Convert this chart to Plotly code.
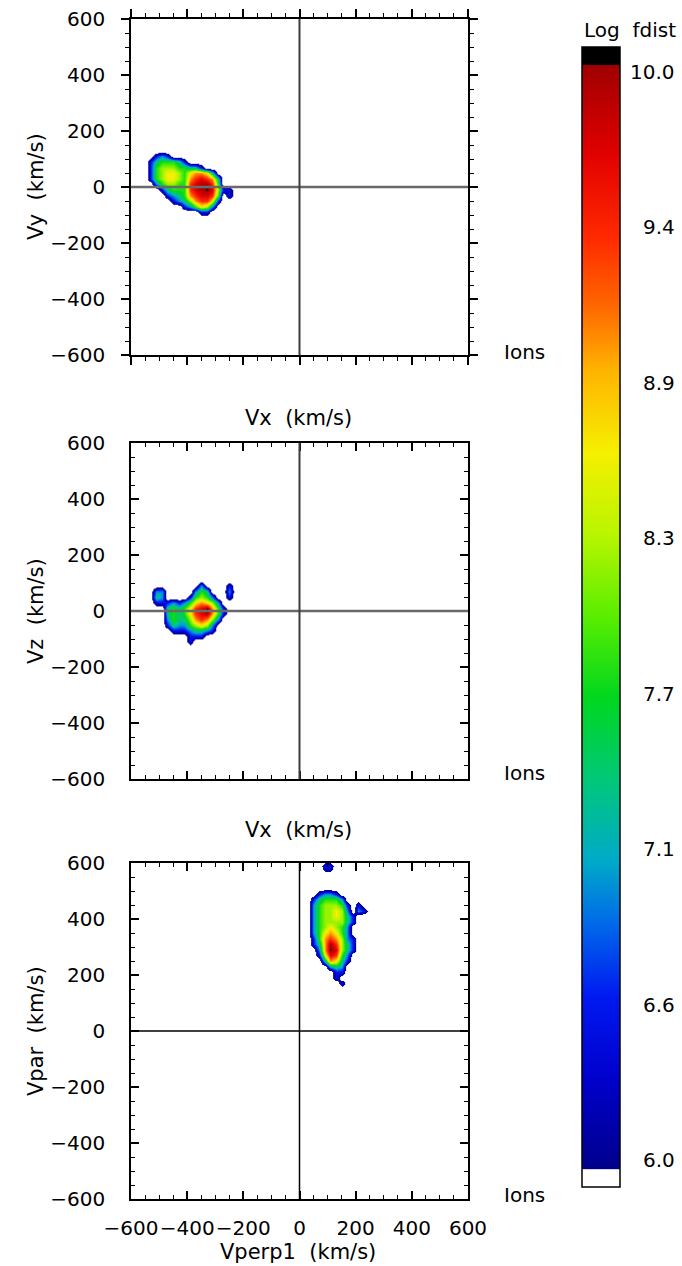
import plotly.graph_objects as go

W, H = 682, 1266
FONT = "DejaVu Sans"

# Level codes used in the gridded distributions -> log10(f);
# '.' marks bins below the plotted floor (drawn white)
LEVEL_CODES = ".0123456789ab"
LEVEL_VALUES = [5.5, 6.05, 6.5, 7.0, 7.4, 7.8, 8.2, 8.6, 9.0, 9.4, 9.7, 9.95, 10.06]

# Panel 1: Vx-Vy plane (bin centres, km/s)
P1_VX = list(range(-550, -229, 20))
P1_VY = list(range(130, -111, -20))
P1_ROWS = [
    ".................",
    "..121............",
    ".1344431.........",
    ".1455544331......",
    ".145665467763....",
    ".1456654789873...",
    "..24554489aa84...",
    "...1344489ab9511.",
    "....1234789984.1.",
    ".....123578861...",
    ".......124652....",
    "..........11.....",
    ".................",
]

# Panel 2: Vx-Vz plane
P2_VX = list(range(-550, -209, 20))
P2_VZ = list(range(110, -131, -20))
P2_ROWS = [
    "..................",
    "..........2....1..",
    "..22.....243...2..",
    "..32....14542..1..",
    "..111212467652....",
    "....3434689b741...",
    "....3434689a741...",
    "....2433578752....",
    "....132245652.....",
    ".....11123321.....",
    "........111.......",
    "........1.........",
    "..................",
]

# Panel 3: Vperp1-Vpar plane
P3_VPERP = list(range(30, 251, 20))
P3_VPAR = list(range(610, 149, -20))
P3_ROWS = [
    "............",
    "...11.......",
    "...00.......",
    "............",
    "............",
    "............",
    "..1221......",
    ".134442.....",
    ".2455541.1..",
    ".2455652.21.",
    ".24556531...",
    ".24555531...",
    ".2456542....",
    ".2467642....",
    ".14787521...",
    ".137a8531...",
    "..27b9531...",
    "..169842....",
    "...37631....",
    "....232.....",
    ".....11.....",
    ".....1......",
    "......1.....",
    "............",
]

AXIS_TICKS = [-600, -400, -200, 0, 200, 400, 600]
CB_MIN, CB_MAX = 5.901, 10.092
CB_TICKS = [6.0, 6.571, 7.143, 7.714, 8.286, 8.857, 9.429, 10.0]
CB_LABELS = ["6.0", "6.6", "7.1", "7.7", "8.3", "8.9", "9.4", "10.0"]


def decode(rows, ys):
    """Turn code strings into a z grid with ascending y."""
    lut = dict(zip(LEVEL_CODES, LEVEL_VALUES))
    z = [[lut[c] for c in r] for r in rows]
    return list(reversed(ys)), list(reversed(z))


def px(xp):
    return xp / W


def py(yp):
    return 1 - yp / H


def v2y(v):
    # vertical pixel of a value on the colour bar
    return 47 + (CB_MAX - v) / (CB_MAX - CB_MIN) * 1140


def t(v):
    return (v - CB_MIN) / (CB_MAX - CB_MIN)


colorscale = [
    [t(5.901), "rgb(255,255,255)"],
    [t(5.965), "rgb(255,255,255)"],
    [t(5.967), "rgb(0,0,140)"],
    [t(6.3), "rgb(0,0,205)"],
    [t(6.6), "rgb(0,25,240)"],
    [t(6.85), "rgb(0,100,235)"],
    [t(7.1), "rgb(0,170,200)"],
    [t(7.4), "rgb(0,200,120)"],
    [t(7.7), "rgb(0,215,30)"],
    [t(8.0), "rgb(90,238,0)"],
    [t(8.3), "rgb(185,245,0)"],
    [t(8.6), "rgb(245,240,0)"],
    [t(8.9), "rgb(255,180,0)"],
    [t(9.15), "rgb(255,100,0)"],
    [t(9.4), "rgb(255,40,0)"],
    [t(9.7), "rgb(225,0,0)"],
    [t(10.024), "rgb(160,0,0)"],
    [t(10.026), "rgb(0,0,0)"],
    [t(10.092), "rgb(0,0,0)"],
]

fig = go.Figure()
panels = [
    (P1_VX, P1_VY, P1_ROWS, "x", "y"),
    (P2_VX, P2_VZ, P2_ROWS, "x2", "y2"),
    (P3_VPERP, P3_VPAR, P3_ROWS, "x3", "y3"),
]
for xs, ys, rows, xa, ya in panels:
    yy, z = decode(rows, ys)
    fig.add_trace(go.Heatmap(x=xs, y=yy, z=z, coloraxis="coloraxis",
                             zsmooth="best", xaxis=xa, yaxis=ya,
                             hoverinfo="skip"))

# panel frames (pixel extents)
frames = [(19, 355), (443, 779), (863, 1199)]
x_dom = [px(131), px(468)]

layout_axes = {}
for i, (top, bot) in enumerate(frames):
    n = "" if i == 0 else str(i + 1)
    tickdir = "outside" if i == 0 else "inside"
    common = dict(range=[-600, 600], tickvals=AXIS_TICKS, ticks=tickdir,
                  ticklen=8, tickwidth=1.5, tickcolor="black",
                  showline=True, linecolor="black", linewidth=1.5,
                  mirror="allticks", showgrid=False, zeroline=False,
                  minor=dict(dtick=50, ticks=tickdir, ticklen=4,
                             tickwidth=1.2, tickcolor="black"),
                  tickfont=dict(family=FONT, size=20, color="black"),
                  tickangle=0, automargin=False, fixedrange=True)
    layout_axes["xaxis" + n] = dict(common, domain=x_dom, anchor="y" + n,
                                    showticklabels=(i == 2),
                                    ticklabelstandoff=10)
    layout_axes["yaxis" + n] = dict(common, domain=[py(bot), py(top)],
                                    anchor="x" + n,
                                    ticklabelstandoff=(12 if i == 0 else 20))

fig.update_layout(**layout_axes)

shapes = []
line_styles = [
    (dict(color="rgb(105,105,105)", width=2.5), dict(color="rgb(60,60,60)", width=2)),
    (dict(color="rgb(105,105,105)", width=2.5), dict(color="rgb(60,60,60)", width=2)),
    (dict(color="black", width=1.5), dict(color="black", width=1.5)),
]
for i, (hl, vl) in enumerate(line_styles):
    n = "" if i == 0 else str(i + 1)
    shapes.append(dict(type="line", xref="x" + n + " domain", yref="y" + n,
                       x0=0, x1=1, y0=0, y1=0, line=hl, layer="above"))
    shapes.append(dict(type="line", xref="x" + n, yref="y" + n + " domain",
                       x0=0, x1=0, y0=0, y1=1, line=vl, layer="above"))

annotations = []


def text(s, xp, yp, xanchor="center", angle=0, size=20):
    annotations.append(dict(text=s, x=px(xp), y=py(yp), xref="paper",
                            yref="paper", xanchor=xanchor, yanchor="middle",
                            showarrow=False, textangle=angle,
                            font=dict(family=FONT, size=size, color="black")))


text("Vy  (km/s)", 36, 187, angle=-90, size=21)
text("Vz  (km/s)", 36, 611, angle=-90, size=21)
text("Vpar  (km/s)", 36, 1031, angle=-90, size=21)
text("Vx  (km/s)", 298, 418, size=21)
text("Vx  (km/s)", 298, 830, size=21)
text("Vperp1  (km/s)", 298, 1252, size=21)
for yp in (352, 773, 1195):
    text("Ions", 502, yp, xanchor="left")
text("Log  fdist", 630, 30)
for v, lab in zip(CB_TICKS, CB_LABELS):
    text(lab, 677, v2y(v), xanchor="right")

fig.update_layout(
    width=W, height=H,
    margin=dict(l=0, r=0, t=0, b=0, pad=0, autoexpand=False),
    paper_bgcolor="white", plot_bgcolor="white",
    showlegend=False, shapes=shapes, annotations=annotations,
    coloraxis=dict(
        colorscale=colorscale, cmin=CB_MIN, cmax=CB_MAX,
        colorbar=dict(x=px(582), xanchor="left", y=py(617), yanchor="middle",
                      len=1140, lenmode="pixels", thickness=38,
                      thicknessmode="pixels", xpad=0, ypad=0,
                      outlinecolor="black", outlinewidth=1.5,
                      showticklabels=False, ticks=""),
    ),
)

fig.write_html("out.html")
